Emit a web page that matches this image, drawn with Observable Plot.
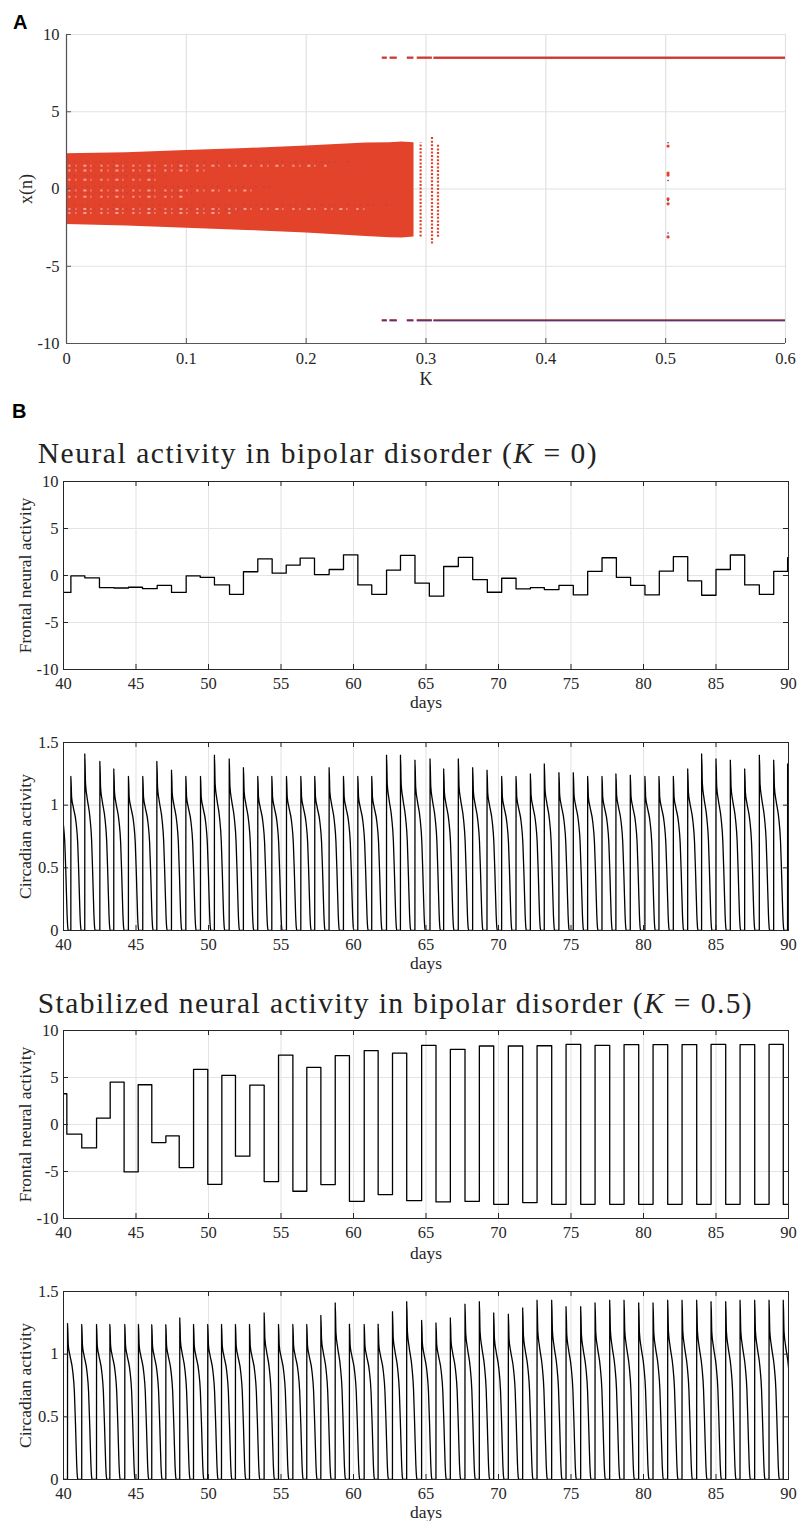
<!DOCTYPE html>
<html><head><meta charset="utf-8">
<script src="https://cdn.jsdelivr.net/npm/d3@7"></script>
<script src="https://cdn.jsdelivr.net/npm/@observablehq/plot@0.6"></script>
<style>
body{margin:0;background:#fff;}
#root{position:relative;width:798px;height:1521px;overflow:hidden;background:#fff;}
#root > svg{position:absolute;left:0;overflow:visible;}
</style></head><body><div id="root"></div>
<script>
// ---------- Panel A: bifurcation diagram ----------
const kTicks = [0, 0.1, 0.2, 0.3, 0.4, 0.5, 0.6];
const xnTicks = [-10, -5, 0, 5, 10];
// envelope of the chaotic band
const bandK      = [0, 0.05, 0.1, 0.15, 0.2, 0.25, 0.27, 0.28, 0.29];
const bandTop    = [2.28, 2.35, 2.5, 2.62, 2.78, 2.97, 3.0, 3.05, 3.0];
const bandBottom = [-2.3, -2.4, -2.54, -2.68, -2.84, -3.08, -3.15, -3.17, -3.1];
// speckled lighter gaps within the band
const streakCenter = [1.5, 1.2, -0.1, -0.5, -1.3, -1.55, 0.6];
const streakEnd    = [0.22, 0.12, 0.16, 0.1, 0.25, 0.14, 0.08];
// isolated columns of points
const colK      = [0.2955, 0.305, 0.310];
const colTop    = [3.0, 3.42, 2.93];
const colBottom = [-3.1, -3.56, -3.13];
// fixed points at +/-8.5
const fixedHigh = 8.5, fixedLow = -8.5;
const segStart = [0.2635, 0.270, 0.2844, 0.2927, 0.3066];
const segEnd   = [0.2677, 0.276, 0.2899, 0.3053, 0.6];
// points at K = 0.5
const kHalf = 0.502;
const kHalfRed  = [2.78, 1.03, 0.9, -0.64, -0.96, -3.1];
const kHalfBlue = [2.99, 0.55, -0.75, -2.85];

// ---------- Panel B data ----------
const dayTicks = [40, 45, 50, 55, 60, 65, 70, 75, 80, 85, 90];
const frontalTicks = [-10, -5, 0, 5, 10];
const circTicks = [0, 0.5, 1, 1.5];

// K = 0 frontal neural activity (step starts and levels)
const f0Days = [40, 40.51, 41.47, 42.48, 43.49, 44.48, 45.45, 46.46, 47.45, 48.46, 49.43, 50.41, 51.45, 52.41, 53.40, 54.39, 55.36, 56.32, 57.31, 58.32, 59.31, 60.30, 61.26, 62.28, 63.24, 64.24, 65.23, 66.22, 67.23, 68.22, 69.23, 70.22, 71.21, 72.20, 73.16, 74.17, 75.16, 76.15, 77.14, 78.13, 79.11, 80.10, 81.09, 82.06, 83.05, 84.01, 85.00, 85.99, 86.98, 87.99, 88.98, 89.94, 90];
const f0Vals = [-1.8, -0.05, -0.25, -1.3, -1.33, -1.25, -1.4, -1.06, -1.8, -0.05, -0.2, -1.0, -2.0, 0.4, 1.77, 0.25, 1.1, 1.85, 0.1, 0.64, 2.2, -1.0, -2.0, 0.57, 2.14, -0.82, -2.2, 0.96, 1.93, -0.43, -1.78, -0.29, -1.43, -1.29, -1.5, -1.04, -2.07, 0.43, 1.89, -0.21, -1.04, -2.07, 0.46, 2.0, -0.57, -2.1, 0.64, 2.18, -1.0, -2.0, 0.43, 1.9, 1.9];

// K = 0.5 frontal neural activity
const f5Days = [40, 40.23, 41.26, 42.28, 43.22, 44.18, 45.15, 46.09, 47.06, 47.98, 48.97, 49.95, 50.92, 51.86, 52.85, 53.84, 54.83, 55.82, 56.78, 57.75, 58.74, 59.72, 60.74, 61.70, 62.69, 63.67, 64.70, 65.69, 66.68, 67.69, 68.68, 69.67, 70.68, 71.67, 72.66, 73.67, 74.66, 75.67, 76.66, 77.67, 78.66, 79.67, 80.66, 81.67, 82.66, 83.67, 84.66, 85.67, 86.66, 87.67, 88.66, 89.64, 90];
const f5Vals = [3.27, -1.03, -2.49, 0.67, 4.51, -5.04, 4.23, -1.92, -1.21, -4.58, 5.86, -6.36, 5.22, -3.37, 4.19, -6.07, 7.39, -7.1, 6.07, -6.39, 7.32, -8.17, 7.85, -7.46, 7.6, -8.1, 8.42, -8.24, 8.0, -8.17, 8.35, -8.49, 8.35, -8.31, 8.38, -8.49, 8.53, -8.49, 8.42, -8.49, 8.49, -8.49, 8.49, -8.49, 8.49, -8.49, 8.53, -8.49, 8.49, -8.49, 8.53, -8.49, -8.49];

// circadian activity: spike onset days and peak heights
const c0Peaks = [39.62, 40.51, 41.47, 42.51, 43.47, 44.48, 45.47, 46.44, 47.45, 48.44, 49.45, 50.41, 51.43, 52.41, 53.40, 54.37, 55.38, 56.37, 57.33, 58.32, 59.31, 60.30, 61.26, 62.28, 63.24, 64.24, 65.28, 66.22, 67.23, 68.22, 69.21, 70.22, 71.21, 72.20, 73.16, 74.17, 75.16, 76.15, 77.14, 78.10, 79.09, 80.10, 81.07, 82.06, 83.05, 84.01, 85.00, 85.99, 86.98, 87.99, 88.98, 89.94];
const c0Heights = [1.23, 1.23, 1.41, 1.35, 1.29, 1.23, 1.23, 1.35, 1.28, 1.23, 1.23, 1.40, 1.37, 1.30, 1.23, 1.23, 1.23, 1.23, 1.23, 1.30, 1.23, 1.23, 1.23, 1.40, 1.40, 1.36, 1.37, 1.29, 1.37, 1.30, 1.28, 1.23, 1.23, 1.25, 1.33, 1.26, 1.26, 1.23, 1.23, 1.25, 1.24, 1.23, 1.23, 1.23, 1.29, 1.41, 1.37, 1.36, 1.29, 1.40, 1.36, 1.33];
const c5Peaks = [39.30, 40.28, 41.26, 42.28, 43.20, 44.23, 45.17, 46.09, 47.06, 48.02, 48.97, 49.95, 50.90, 51.86, 52.83, 53.84, 54.83, 55.82, 56.78, 57.75, 58.74, 59.72, 60.74, 61.70, 62.69, 63.67, 64.70, 65.69, 66.68, 67.69, 68.68, 69.67, 70.68, 71.67, 72.66, 73.67, 74.66, 75.67, 76.66, 77.67, 78.66, 79.67, 80.66, 81.67, 82.66, 83.67, 84.66, 85.67, 86.66, 87.67, 88.66, 89.64];
const c5Heights = [1.24, 1.245, 1.237, 1.237, 1.237, 1.237, 1.237, 1.235, 1.235, 1.29, 1.237, 1.237, 1.237, 1.237, 1.237, 1.33, 1.237, 1.237, 1.237, 1.31, 1.41, 1.24, 1.237, 1.24, 1.34, 1.42, 1.27, 1.25, 1.29, 1.40, 1.42, 1.33, 1.32, 1.37, 1.43, 1.43, 1.38, 1.38, 1.41, 1.43, 1.43, 1.41, 1.41, 1.43, 1.43, 1.43, 1.42, 1.42, 1.43, 1.43, 1.43, 1.43];
// shape of one spike (offset in days from onset, level for a 1.24 peak)
const spikeDt    = [-0.004, 0, 0.05, 0.16, 0.36, 0.47, 0.55, 0.63, 0.68, 0.72];
const spikeLevel = [0, 1.24, 1.07, 0.99, 0.86, 0.70, 0.43, 0.12, 0.02, 0];
const spikeGain  = [0, 1, 0.6, 0.4, 0.2, 0.1, 0, 0, 0, 0];

// ---------- helpers ----------
const red = "#e4432b", blue = "#3b3b9c";
const ink = "#262626";
const serif = "Liberation Serif";
const root = document.getElementById("root");

function stepRows(days, vals) { return days.map((d, i) => ({day: d, v: vals[i]})); }
function spikeRows(peaks, heights) {
  const rows = [];
  peaks.forEach((t, i) => {
    spikeDt.forEach((dt, j) => {
      rows.push({day: t + dt, v: spikeLevel[j] + (heights[i] - 1.24) * spikeGain[j]});
    });
  });
  return rows;
}
function place(svg, top) { svg.style.top = top + "px"; root.appendChild(svg); }

const tickFont = {fontFamily: serif, fontSize: 16.5, fill: ink};
const labelFont = {fontFamily: serif, fontSize: 17.5, fill: ink};
// tick labels as text marks positioned through the scales
function xTickLabels(ticks, dy) {
  return Plot.text(ticks, {x: d => d, text: d => String(d), frameAnchor: "bottom", dy, lineAnchor: "middle", textAnchor: "middle", ...tickFont});
}
function yTickLabels(ticks, dx) {
  return Plot.text(ticks, {y: d => d, text: d => String(d), frameAnchor: "left", dx: -dx, lineAnchor: "middle", textAnchor: "end", ...tickFont});
}

// ---------- Panel A ----------
{
  const W = 798, H = 392, ml = 66, mr = 13, mt = 34, mb = 49;
  const fw = W - ml - mr, fh = H - mt - mb, tl = 5;
  const band = bandK.map((k, i) => ({k, lo: bandBottom[i], hi: bandTop[i]}));
  const svg = Plot.plot({
    width: W, height: H, marginLeft: ml, marginRight: mr, marginTop: mt, marginBottom: mb,
    style: {fontFamily: serif, color: ink, background: "transparent"},
    x: {domain: [0, 0.6], axis: null}, y: {domain: [-10, 10], axis: null},
    marks: [
      Plot.gridX(kTicks, {stroke: "#e2e2e2", strokeOpacity: 1, strokeWidth: 1.2}),
      Plot.gridY(xnTicks, {stroke: "#e2e2e2", strokeOpacity: 1, strokeWidth: 1.2}),
      Plot.areaY(band, {x: "k", y1: "lo", y2: "hi", fill: red}),
      Plot.ruleY(streakCenter, {y: d => d, x1: 0.002, x2: (d, i) => streakEnd[i], stroke: "#fff", strokeOpacity: 0.5, strokeWidth: 2, strokeDasharray: "2,5,1,7,3,4,1,9"}),
      Plot.ruleY(streakCenter, {y: d => d + 0.25, x1: 0.002, x2: (d, i) => streakEnd[i] * 1.1, stroke: blue, strokeOpacity: 0.25, strokeWidth: 1.2, strokeDasharray: "1,4,2,6"}),
      Plot.ruleX(colK, {x: d => d, y1: (d, i) => colBottom[i], y2: (d, i) => colTop[i], stroke: red, strokeWidth: 2.2, strokeDasharray: "2,1.6"}),
      Plot.ruleY(segStart, {y: fixedHigh, x1: d => d, x2: (d, i) => segEnd[i], stroke: red, strokeWidth: 2.4}),
      Plot.ruleY(segStart, {y: fixedHigh, x1: d => d, x2: (d, i) => segEnd[i], stroke: blue, strokeWidth: 0.6, strokeOpacity: 0.5}),
      Plot.ruleY(segStart, {y: fixedLow, x1: d => d, x2: (d, i) => segEnd[i], stroke: red, strokeWidth: 2.4}),
      Plot.ruleY(segStart, {y: fixedLow, x1: d => d, x2: (d, i) => segEnd[i], stroke: blue, strokeWidth: 1.3}),
      Plot.dot(kHalfRed, {x: kHalf, y: d => d, r: 1.6, fill: red}),
      Plot.dot(kHalfBlue, {x: kHalf, y: d => d, r: 0.8, fill: blue}),
      Plot.ruleX([0], {stroke: "#555", strokeWidth: 1.2}),
      Plot.ruleY([-10], {stroke: "#555", strokeWidth: 1.2}),
      Plot.tickX(kTicks, {x: d => d, insetTop: fh - tl, stroke: "#555"}),
      Plot.tickY(xnTicks, {y: d => d, insetRight: fw - tl, stroke: "#555"}),
      xTickLabels(kTicks, 15.5),
      yTickLabels(xnTicks, 7),
      Plot.text(["K"], {text: d => d, frameAnchor: "bottom", dy: 36, lineAnchor: "middle", textAnchor: "middle", ...labelFont, fontSize: 18}),
      Plot.text(["x(n)"], {text: d => d, frameAnchor: "left", dx: -40, rotate: -90, lineAnchor: "middle", textAnchor: "middle", ...labelFont, fontSize: 18})
    ]
  });
  place(svg, 0);
}

// ---------- Panel B builder ----------
function panelB({top, height, mt, mb, yDomain, yTicks, marks, yLabel, daysOffset}) {
  const W = 798, ml = 63, mr = 10;
  const fw = W - ml - mr, fh = height - mt - mb, tl = 5;
  const svg = Plot.plot({
    width: W, height, marginLeft: ml, marginRight: mr, marginTop: mt, marginBottom: mb,
    style: {fontFamily: serif, color: ink, background: "transparent"},
    x: {domain: [40, 90], axis: null}, y: {domain: yDomain, axis: null},
    marks: [
      Plot.gridX(dayTicks, {stroke: "#e4e4e4", strokeOpacity: 1, strokeWidth: 1.1}),
      Plot.gridY(yTicks, {stroke: "#e4e4e4", strokeOpacity: 1, strokeWidth: 1.1}),
      ...marks,
      Plot.tickX(dayTicks, {x: d => d, insetTop: fh - tl, stroke: ink}),
      Plot.tickX(dayTicks, {x: d => d, insetBottom: fh - tl, stroke: ink}),
      Plot.tickY(yTicks, {y: d => d, insetRight: fw - tl, stroke: ink}),
      Plot.tickY(yTicks, {y: d => d, insetLeft: fw - tl, stroke: ink}),
      Plot.frame({stroke: ink, strokeWidth: 1}),
      xTickLabels(dayTicks, 14.5),
      yTickLabels(yTicks, 5),
      Plot.text(["days"], {text: d => d, frameAnchor: "bottom", dy: daysOffset, lineAnchor: "middle", textAnchor: "middle", ...labelFont}),
      Plot.text([yLabel], {text: d => d, frameAnchor: "left", dx: -38, rotate: -90, lineAnchor: "middle", textAnchor: "middle", ...labelFont})
    ]
  });
  place(svg, top);
}

const lineStyle = {x: "day", y: "v", stroke: "#000", strokeWidth: 1.3, clip: true};

panelB({top: 470, height: 245, mt: 11, mb: 46, yDomain: [-10, 10], yTicks: frontalTicks,
  marks: [Plot.line(stepRows(f0Days, f0Vals), {...lineStyle, curve: "step-after"})],
  yLabel: "Frontal neural activity", daysOffset: 33});
panelB({top: 730, height: 248, mt: 12, mb: 48, yDomain: [0, 1.5], yTicks: circTicks,
  marks: [Plot.line(spikeRows(c0Peaks, c0Heights), {...lineStyle, curve: "monotone-x"})],
  yLabel: "Circadian activity", daysOffset: 33});
panelB({top: 1020, height: 245, mt: 10, mb: 47, yDomain: [-10, 10], yTicks: frontalTicks,
  marks: [Plot.line(stepRows(f5Days, f5Vals), {...lineStyle, curve: "step-after"})],
  yLabel: "Frontal neural activity", daysOffset: 35});
panelB({top: 1280, height: 241, mt: 11, mb: 42, yDomain: [0, 1.5], yTicks: circTicks,
  marks: [Plot.line(spikeRows(c5Peaks, c5Heights), {...lineStyle, curve: "monotone-x"})],
  yLabel: "Circadian activity", daysOffset: 33});

// ---------- titles and panel letters ----------
const ns = "http://www.w3.org/2000/svg";
const over = document.createElementNS(ns, "svg");
over.setAttribute("width", 798); over.setAttribute("height", 1521);
over.style.top = "0px"; over.style.pointerEvents = "none";
over.innerHTML = `
  <text x="13" y="29" font-family="Liberation Sans" font-weight="bold" font-size="20" fill="#000">A</text>
  <text x="12" y="418" font-family="Liberation Sans" font-weight="bold" font-size="20" fill="#000">B</text>
  <text x="37.7" y="463" font-family="Liberation Serif" font-size="29.5" fill="#222" textLength="559" lengthAdjust="spacing">Neural activity in bipolar disorder (<tspan font-style="italic">K</tspan> = 0)</text>
  <text x="37.7" y="1013" font-family="Liberation Serif" font-size="29.5" fill="#222" textLength="714" lengthAdjust="spacing">Stabilized neural activity in bipolar disorder (<tspan font-style="italic">K</tspan> = 0.5)</text>
`;
root.appendChild(over);
</script></body></html>
